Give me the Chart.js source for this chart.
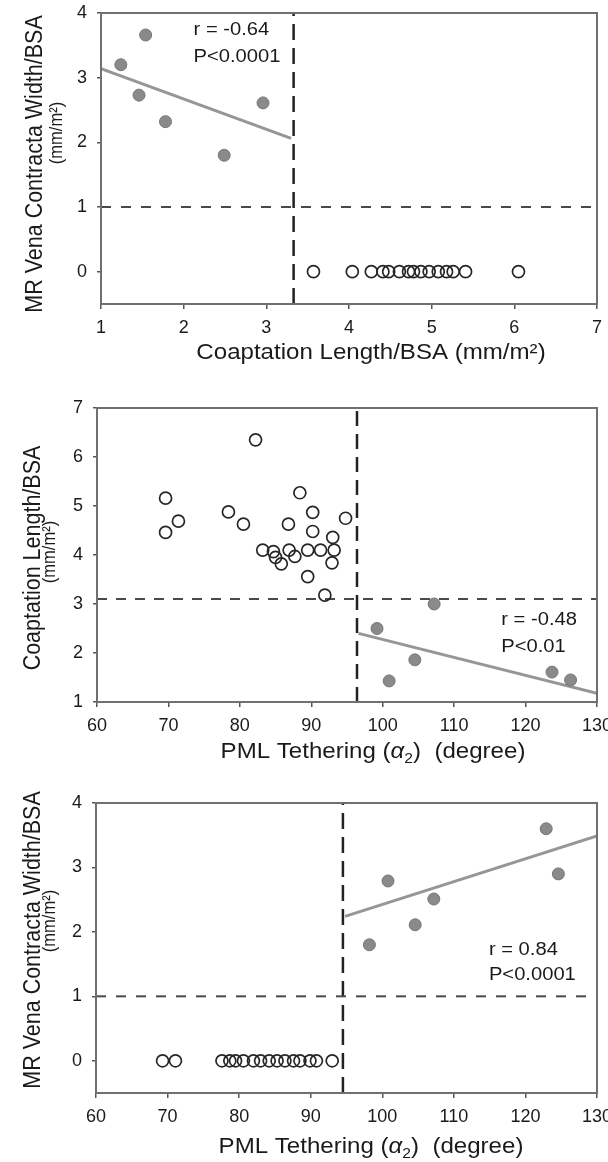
<!DOCTYPE html>
<html>
<head>
<meta charset="utf-8">
<script src="https://cdn.jsdelivr.net/npm/chart.js@4.4.0/dist/chart.umd.min.js"></script>
<style>
    html, body { margin: 0; padding: 0; background: #fff; overflow: hidden; }
    canvas { position: absolute; left: 0; }
    #chartA { top: 0; }
    #chartB { top: 375px; }
    #chartC { top: 770px; }
</style>
</head>
<body>
<canvas id="chartA" width="608" height="375"></canvas>
<canvas id="chartB" width="608" height="395"></canvas>
<canvas id="chartC" width="608" height="392"></canvas>
<script>
const FONT = "'Liberation Sans', Arial, sans-serif";
const INK = "#1a1a1a";

// --- panel A: MR vena contracta width vs coaptation length ---
const coapTicks = [1, 2, 3, 4, 5, 6, 7];
const mrTicks = [0, 1, 2, 3, 4];
const mrRange = [-0.5, 4];
const coapMrX = [1.24, 1.54, 1.46, 1.78, 2.49, 2.96];
const coapMrY = [3.20, 3.66, 2.73, 2.32, 1.80, 2.61];
const coapNoMrX = [3.57, 4.04, 4.27, 4.41, 4.48, 4.61, 4.72, 4.78, 4.87, 4.97, 5.08, 5.18, 5.26, 5.41, 6.05];
const coapNoMrY = [0, 0, 0, 0, 0, 0, 0, 0, 0, 0, 0, 0, 0, 0, 0];
const coapFitX = [1, 3.30];
const coapFitY = [3.14, 2.06];
const coapCutoff = 3.33;
const mrCutoff = 1.0;

// --- panel B: coaptation length vs PML tethering ---
const angleTicks = [60, 70, 80, 90, 100, 110, 120, 130];
const coapYTicks = [1, 2, 3, 4, 5, 6, 7];
const tethNoMrX = [82.2, 69.6, 71.4, 69.6, 78.4, 80.5, 88.4, 90.2, 86.8, 90.2, 94.8, 93.0,
    83.2, 84.7, 85.0, 85.8, 86.9, 87.7, 89.5, 91.3, 93.2, 92.9, 89.5, 91.9];
const tethNoMrY = [6.35, 5.16, 4.69, 4.46, 4.88, 4.63, 5.27, 4.87, 4.63, 4.48, 4.75, 4.36,
    4.10, 4.07, 3.95, 3.82, 4.10, 3.97, 4.10, 4.10, 4.10, 3.84, 3.56, 3.18];
const tethMrX = [99.2, 100.9, 104.5, 107.2, 123.7, 126.3];
const tethMrY = [2.50, 1.43, 1.86, 3.00, 1.61, 1.45];
const tethFitX = [96.6, 130];
const tethFitY = [2.40, 1.18];
const tethCutoffB = 96.4;
const coapCutoffB = 3.1;

// --- panel C: MR vena contracta width vs PML tethering ---
const mrTethX = [98.2, 100.8, 104.6, 107.2, 122.9, 124.6];
const mrTethY = [1.80, 2.79, 2.11, 2.51, 3.60, 2.90];
const noMrTethX = [69.3, 71.1, 77.6, 78.7, 79.5, 80.6, 82.0, 83.0, 84.2, 85.3, 86.4, 87.6, 88.5, 89.9, 90.8, 93.0];
const noMrTethY = [0, 0, 0, 0, 0, 0, 0, 0, 0, 0, 0, 0, 0, 0, 0, 0];
const mrTethFitX = [94.8, 130];
const mrTethFitY = [2.24, 3.49];
const tethCutoffC = 94.5;

function pts(xs, ys) {
    return xs.map((x, i) => ({ x: x, y: ys[i] }));
}

function filledSet(xs, ys) {
    return {
        data: pts(xs, ys),
        pointRadius: 6,
        pointBackgroundColor: "#8a8a8a",
        pointBorderColor: "#767676",
        pointBorderWidth: 1,
        order: 0
    };
}

function hollowSet(xs, ys) {
    return {
        data: pts(xs, ys),
        pointRadius: 6,
        pointBackgroundColor: "rgba(255,255,255,0)",
        pointBorderColor: "#262626",
        pointBorderWidth: 1.7,
        order: 0
    };
}

function lineSet(xs, ys, color, width, dash) {
    return {
        data: pts(xs, ys),
        showLine: true,
        pointRadius: 0,
        borderColor: color,
        borderWidth: width,
        borderDash: dash || [],
        borderCapStyle: "butt",
        order: 1
    };
}

// draws a row of text pieces, centred, a bit wider like the scan
function drawRuns(ctx, runs, cx, cy, rotate) {
    let total = 0;
    runs.forEach(r => {
        ctx.font = r.font;
        r.w = ctx.measureText(r.text).width;
        total += r.w;
    });
    ctx.save();
    ctx.translate(cx, cy);
    ctx.scale(1.12, 1);
    if (rotate) ctx.rotate(-Math.PI / 2);
    ctx.fillStyle = INK;
    ctx.textBaseline = "middle";
    ctx.textAlign = "left";
    let x = -total / 2;
    runs.forEach(r => {
        ctx.font = r.font;
        ctx.fillText(r.text, x, r.dy || 0);
        x += r.w;
    });
    ctx.restore();
}

const extrasPlugin = {
    id: "extras",
    afterDatasetsDraw(chart, args, opts) {
        const ctx = chart.ctx;
        const a = chart.chartArea;
        ctx.save();
        ctx.strokeStyle = "#707070";
        ctx.lineWidth = 2;
        ctx.strokeRect(a.left, a.top, a.right - a.left, a.bottom - a.top);
        ctx.restore();

        drawRuns(ctx, opts.xTitle, opts.xTitlePos[0], opts.xTitlePos[1], false);
        opts.yTitle.forEach(t => {
            drawRuns(ctx, [{ text: t.text, font: t.font }], t.pos[0], t.pos[1], true);
        });

        const sx = chart.scales.x;
        const sy = chart.scales.y;
        opts.notes.forEach(n => {
            ctx.save();
            ctx.translate(sx.getPixelForValue(n.x), sy.getPixelForValue(n.y));
            ctx.scale(1.12, 1);
            ctx.font = "18px " + FONT;
            ctx.fillStyle = INK;
            ctx.textBaseline = "middle";
            ctx.textAlign = "left";
            ctx.fillText(n.text, 0, 0);
            ctx.restore();
        });
    }
};

function buildChart(id, cfg) {
    return new Chart(document.getElementById(id), {
        type: "scatter",
        data: { datasets: cfg.datasets },
        options: {
            responsive: false,
            animation: false,
            layout: { padding: { left: 0, right: 11, top: cfg.top, bottom: 0 } },
            plugins: {
                legend: { display: false },
                tooltip: { enabled: false },
                extras: cfg.extras
            },
            scales: {
                x: {
                    type: "linear",
                    min: cfg.xTicks[0],
                    max: cfg.xTicks[cfg.xTicks.length - 1],
                    afterBuildTicks: s => { s.ticks = cfg.xTicks.map(v => ({ value: v })); },
                    afterFit: s => { s.height = cfg.xAxisHeight; s.paddingLeft = 0; s.paddingRight = 0; },
                    grid: { drawOnChartArea: false, tickLength: 5, color: "#555", lineWidth: 1.5 },
                    border: { display: false },
                    ticks: { color: INK, font: { family: FONT, size: 18 }, padding: 8, maxRotation: 0, autoSkip: false }
                },
                y: {
                    type: "linear",
                    min: cfg.yRange[0],
                    max: cfg.yRange[1],
                    afterBuildTicks: s => { s.ticks = cfg.yTicks.map(v => ({ value: v })); },
                    afterFit: s => { s.width = cfg.yAxisWidth; s.paddingTop = 0; s.paddingBottom = 0; },
                    grid: { drawOnChartArea: false, tickLength: 4, color: "#555", lineWidth: 1.5 },
                    border: { display: false },
                    ticks: { color: INK, font: { family: FONT, size: 18 }, padding: 10, autoSkip: false }
                }
            }
        },
        plugins: [extrasPlugin]
    });
}

const titleFont = "21.5px " + FONT;
const unitFont = "16.5px " + FONT;
const tetheringTitle = [
    { text: "PML Tethering (", font: titleFont },
    { text: "\u03b1", font: "italic " + titleFont },
    { text: "2", font: "14px " + FONT, dy: 7 },
    { text: ")  (degree)", font: titleFont }
];

buildChart("chartA", {
    top: 13,
    xAxisHeight: 71,
    yAxisWidth: 101,
    xTicks: coapTicks,
    yTicks: mrTicks,
    yRange: mrRange,
    datasets: [
        filledSet(coapMrX, coapMrY),
        hollowSet(coapNoMrX, coapNoMrY),
        lineSet(coapFitX, coapFitY, "#969696", 3),
        lineSet([coapTicks[0], coapTicks[coapTicks.length - 1]], [mrCutoff, mrCutoff], "#4a4a4a", 2, [10, 10]),
        lineSet([coapCutoff, coapCutoff], mrRange, "#222", 2.5, [16, 8])
    ],
    extras: {
        xTitle: [{ text: "Coaptation Length/BSA (mm/m\u00b2)", font: titleFont }],
        xTitlePos: [371, 353],
        yTitle: [
            { text: "MR Vena Contracta Width/BSA", font: titleFont, pos: [35, 164] },
            { text: "(mm/m\u00b2)", font: unitFont, pos: [57, 133] }
        ],
        notes: [
            { text: "r = -0.64", x: 2.12, y: 3.73 },
            { text: "P<0.0001", x: 2.12, y: 3.32 }
        ]
    }
});

buildChart("chartB", {
    top: 33,
    xAxisHeight: 68,
    yAxisWidth: 97,
    xTicks: angleTicks,
    yTicks: coapYTicks,
    yRange: [coapYTicks[0], coapYTicks[coapYTicks.length - 1]],
    datasets: [
        filledSet(tethMrX, tethMrY),
        hollowSet(tethNoMrX, tethNoMrY),
        lineSet(tethFitX, tethFitY, "#969696", 3),
        lineSet([angleTicks[0], angleTicks[angleTicks.length - 1]], [coapCutoffB, coapCutoffB], "#4a4a4a", 2, [10, 9]),
        lineSet([tethCutoffB, tethCutoffB], [coapYTicks[0], coapYTicks[coapYTicks.length - 1]], "#222", 2.5, [15, 8])
    ],
    extras: {
        xTitle: tetheringTitle,
        xTitlePos: [373, 377],
        yTitle: [
            { text: "Coaptation Length/BSA", font: titleFont, pos: [33, 183] },
            { text: "(mm/m\u00b2)", font: unitFont, pos: [50, 177] }
        ],
        notes: [
            { text: "r = -0.48", x: 116.6, y: 2.67 },
            { text: "P<0.01", x: 116.6, y: 2.12 }
        ]
    }
});

buildChart("chartC", {
    top: 33,
    xAxisHeight: 69,
    yAxisWidth: 96,
    xTicks: angleTicks,
    yTicks: mrTicks,
    yRange: mrRange,
    datasets: [
        filledSet(mrTethX, mrTethY),
        hollowSet(noMrTethX, noMrTethY),
        lineSet(mrTethFitX, mrTethFitY, "#969696", 3),
        lineSet([angleTicks[0], angleTicks[angleTicks.length - 1]], [mrCutoff, mrCutoff], "#4a4a4a", 2, [10, 10]),
        lineSet([tethCutoffC, tethCutoffC], mrRange, "#222", 2.5, [16, 8])
    ],
    extras: {
        xTitle: tetheringTitle,
        xTitlePos: [371, 377],
        yTitle: [
            { text: "MR Vena Contracta Width/BSA", font: titleFont, pos: [33, 170] },
            { text: "(mm/m\u00b2)", font: unitFont, pos: [50, 151] }
        ],
        notes: [
            { text: "r = 0.84", x: 114.9, y: 1.72 },
            { text: "P<0.0001", x: 114.9, y: 1.33 }
        ]
    }
});
</script>
</body>
</html>
